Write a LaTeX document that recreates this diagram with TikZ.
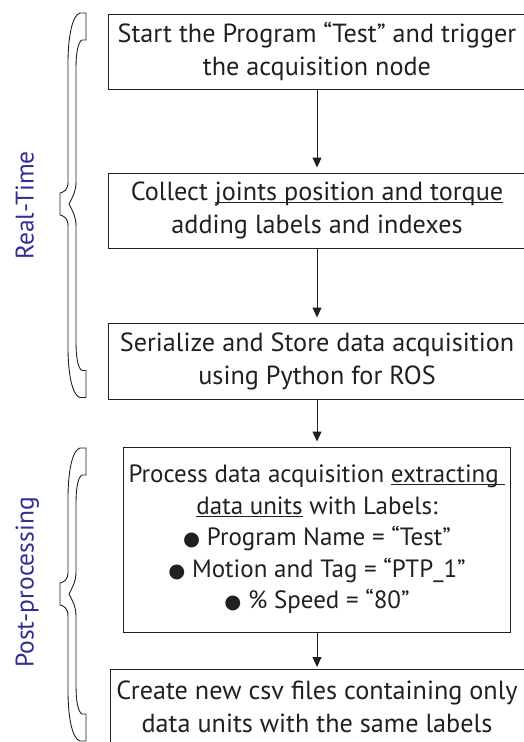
\documentclass[tikz,border=0pt]{standalone}
\usepackage{fontspec}
\setmainfont{PT Sans}
\newfontfamily\symfont{DejaVu Sans}
\usetikzlibrary{arrows.meta}

\definecolor{ink}{RGB}{35,31,32}
\definecolor{phase}{RGB}{46,49,146}

% underline at a fixed distance below the baseline
\newcommand\ulin[1]{\underline{\raisebox{0pt}[\height][0pt]{#1}}}
% round list bullet
\newcommand\bul{{\symfont\fontsize{19.5}{19.5}\selectfont ●}}

% hollow curly brace spanning from y=#1 to y=#2 with its point at y=#3
\newcommand\sidebrace[3]{%
  \draw[bracestyle]
    (86,#1) -- (80,#1) .. controls (72,#1+2) and (68,#1+25) .. (68,#1+50)
    -- (68,#3-22) .. controls (68,#3-14) and (64,#3-12) .. (60,#3-11)
    -- (60,#3+11) .. controls (64,#3+12) and (68,#3+14) .. (68,#3+22)
    -- (68,#2-50) .. controls (68,#2-25) and (72,#2-2) .. (80,#2)
    -- (86,#2) -- (86,#2-27) -- (82,#2-27)
    .. controls (78,#2-29) and (76,#2-40) .. (76,#2-55)
    -- (76,#3+22) .. controls (76,#3+12) and (72,#3+6) .. (69,#3)
    .. controls (72,#3-6) and (76,#3-12) .. (76,#3-22)
    -- (76,#1+55) .. controls (76,#1+40) and (78,#1+29) .. (82,#1+27)
    -- (86,#1+27) -- cycle;}

\begin{document}
\begin{tikzpicture}[x=1pt,y=-1pt,
  stepbox/.style={draw=ink, line width=1pt, text=ink, align=center,
    font=\fontsize{26.2}{33}\selectfont, inner sep=0pt},
  flow/.style={draw=ink, line width=1pt,
    -{Triangle[width=9pt,length=10pt]}, shorten >=5pt},
  phaselabel/.style={text=phase, rotate=90, anchor=base,
    font=\fontsize{25.5}{30}\selectfont},
  bracestyle/.style={draw=ink, line width=0.9pt, line join=round}]

\useasboundingbox (0,0) rectangle (524,742);
\clip (0,0) rectangle (524,742);

% process steps
\node[stepbox, minimum width=418pt, minimum height=75pt] (b1) at (317,51.5)
  {Start the Program “Test” and trigger\\ the acquisition node};
\node[stepbox, minimum width=418pt, minimum height=75pt] (b2) at (317,210.5)
  {Collect \ulin{joints position and torque}\\ adding labels and indexes};
\node[stepbox, minimum width=418pt, minimum height=76pt] (b3) at (317,361)
  {Serialize and Store data acquisition\\ using Python for ROS};
\node[stepbox, minimum width=387pt, minimum height=185pt,
      font=\fontsize{25}{31.5}\selectfont] (b4) at (317,539.5)
  {Process data acquisition \ulin{extracting\ }\\
   \ulin{data units} with Labels:\\
   \bul\ Program Name = “Test”\\
   \bul\ Motion and Tag = “PTP\_1”\\
   \bul\ \% Speed = “80”};
\node[stepbox, minimum width=414pt, minimum height=75pt] (b5) at (317,706.5)
  {Create new csv files containing only\\ data units with the same labels};

% connectors
\draw[flow] (b1.south) -- (b2.north);
\draw[flow] (b2.south) -- (b3.north);
\draw[flow] (b3.south) -- (b4.north);
\draw[flow, shorten >=1.5pt] (b4.south) -- (b5.north);

% phase braces and labels
\sidebrace{13}{397.5}{204}
\sidebrace{448}{741}{594}
\node[phaselabel] (rt) at (33.5,205.5) {Real-Time};
\node[phaselabel] (pp) at (33.5,582.5) {Post-processing};
\end{tikzpicture}
\end{document}
